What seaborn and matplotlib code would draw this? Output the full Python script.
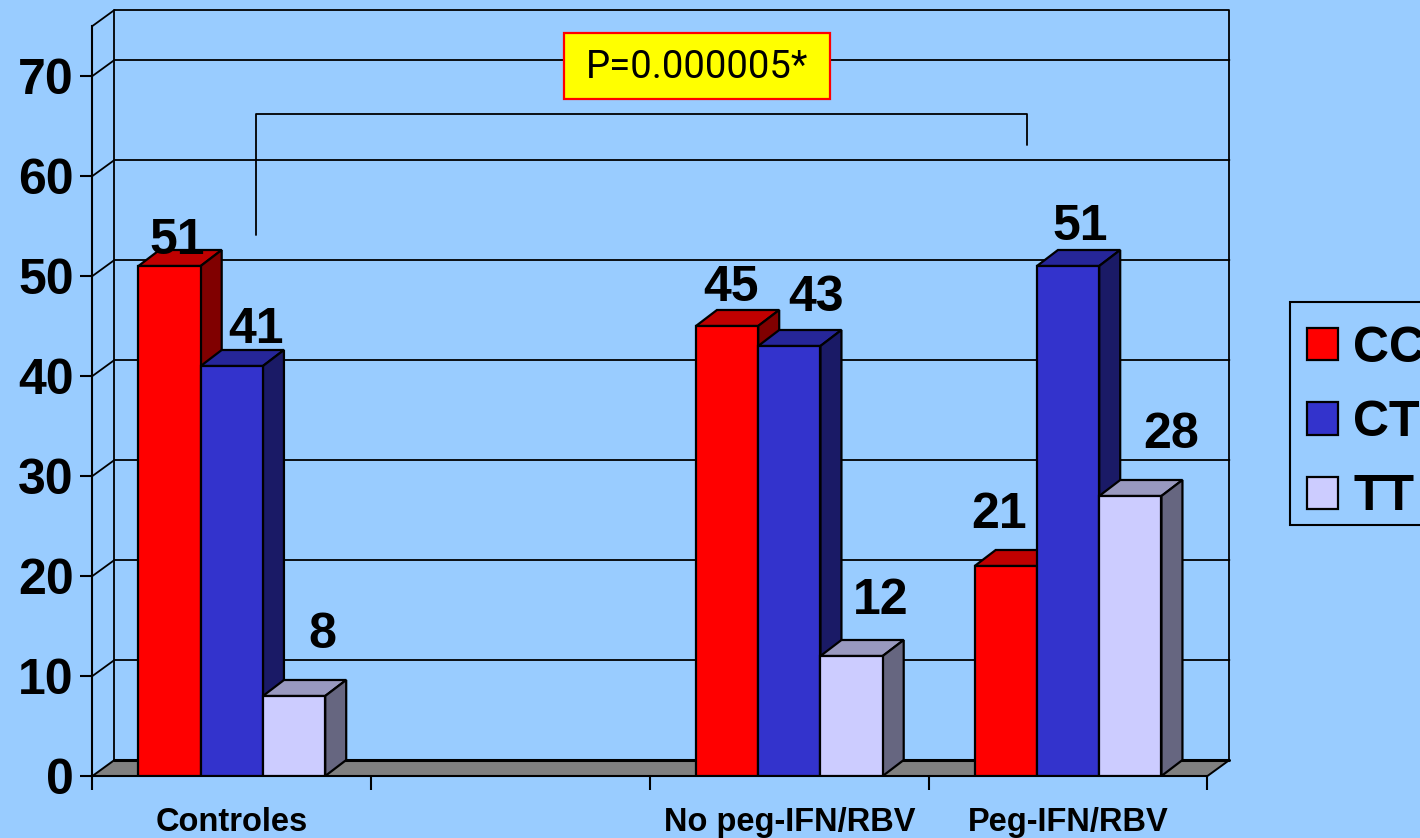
import numpy as np
import pandas as pd
import seaborn as sns
import matplotlib.pyplot as plt
from matplotlib.patches import Polygon, Rectangle

# Values
categories = ["Controles", " ", "No peg-IFN/RBV", "Peg-IFN/RBV"]
genotypes = ["CC", "CT", "TT"]
cc_values = [51, np.nan, 45, 21]
ct_values = [41, np.nan, 43, 51]
tt_values = [8, np.nan, 12, 28]
y_ticks = [0, 10, 20, 30, 40, 50, 60, 70]
p_label = "P=0.000005*"

df = pd.DataFrame({
    "group": categories * 3,
    "genotype": np.repeat(genotypes, len(categories)),
    "percent": cc_values + ct_values + tt_values,
})

BG = "#99CCFF"
front_colors = ["#FF0000", "#3333CC", "#CCCCFF"]
top_colors = ["#C00000", "#262699", "#9999BF"]
side_colors = ["#800000", "#1A1A66", "#666680"]

sns.set_theme(style="white")
plt.rcParams["font.family"] = ["Liberation Sans", "DejaVu Sans"]

W, H = 1420, 838
AX_LEFT = 92.45
fig = plt.figure(figsize=(W / 100, H / 100), dpi=100, facecolor=BG)
ax = fig.add_axes([AX_LEFT / W, 1 - 776 / H, 1115 / W, 750 / H])
ax.set_facecolor("none")

sns.barplot(
    data=df, x="group", y="percent", hue="genotype",
    order=categories, hue_order=genotypes, palette=front_colors, saturation=1,
    width=0.67, gap=0, errorbar=None, edgecolor="black", linewidth=1.6, ax=ax,
)
ax.set_xlim(-0.5, 3.5)
ax.set_ylim(0, 75)
ax.set_xlabel("")
ax.set_ylabel("")

# depth of the fake 3D box, in data units (22 px right, 16 px up)
dx = 22 / (1115 / 4)
dy = 16 / 10
x0, x1 = -0.5, 3.5
ytop = 75

# floor
ax.add_patch(Polygon([(x0, 0), (x0 + dx, dy), (x1 + dx, dy), (x1, 0)], closed=True,
                     facecolor="#808080", edgecolor="black", linewidth=1.4,
                     clip_on=False, zorder=1))
# back wall and grid
line_kw = dict(color="black", linewidth=1.3, clip_on=False, zorder=1.5)
ax.plot([x0 + dx, x0 + dx, x1 + dx, x1 + dx], [dy, ytop + dy, ytop + dy, dy], **line_kw)
for v in y_ticks[1:]:
    ax.plot([x0, x0 + dx, x1 + dx], [v, v + dy, v + dy], **line_kw)
ax.plot([x0, x0 + dx], [ytop, ytop + dy], **line_kw)
ax.plot([x0 + dx, x1 + dx], [dy, dy], color="black", linewidth=2.2, clip_on=False, zorder=1.6)

# 3D sides, painted left to right so the next bar hides them
z = 2
d_bar = 21 / (1115 / 4)
for g, container in enumerate(ax.containers):
    for bar in container:
        h = bar.get_height()
        if np.isnan(h) or h == 0:
            continue
        bar._genotype = g
bars = [b for b in ax.patches if hasattr(b, "_genotype")]
bars.sort(key=lambda b: b.get_x())
for bar in bars:
    g = bar._genotype
    left, w, h = bar.get_x(), bar.get_width(), bar.get_height()
    right = left + w
    ax.add_patch(Polygon([(left, h), (left + d_bar, h + dy), (right + d_bar, h + dy), (right, h)],
                         closed=True, facecolor=top_colors[g], edgecolor="black",
                         linewidth=1.6, clip_on=False, zorder=z))
    ax.add_patch(Polygon([(right, 0), (right + d_bar, dy), (right + d_bar, h + dy), (right, h)],
                         closed=True, facecolor=side_colors[g], edgecolor="black",
                         linewidth=1.6, clip_on=False, zorder=z))
    bar.set_zorder(z + 0.5)
    z += 1

# value labels sit loosely above the bars, offsets in pixels
label_dx = {(0, 0): 8, (0, 1): 24, (0, 2): 28, (2, 0): 4, (2, 1): 27, (2, 2): 29,
            (3, 0): -7, (3, 1): 12, (3, 2): 41}
label_dy = {(0, 0): 30, (0, 1): 41, (0, 2): 66, (2, 0): 43, (2, 1): 53, (2, 2): 60,
            (3, 0): 56, (3, 1): 44, (3, 2): 66}
for bar in bars:
    g = bar._genotype
    cat = int(round(bar.get_x() + bar.get_width() / 2 - (g - 1) * bar.get_width()))
    ax.annotate(f"{bar.get_height():.0f}", (bar.get_x() + bar.get_width() / 2, bar.get_height()),
                xytext=(label_dx[(cat, g)], label_dy[(cat, g)]), textcoords="offset pixels",
                ha="center", va="center_baseline", fontsize=36, fontweight="bold",
                color="black", zorder=50, annotation_clip=False)

# significance bracket
px_x = lambda p: (p - AX_LEFT) / (1115 / 4) - 0.5
px_y = lambda p: (776 - p) / 10
ax.plot([px_x(256), px_x(256), px_x(1027), px_x(1027)],
        [px_y(235), px_y(114), px_y(114), px_y(145)],
        color="black", linewidth=1.3, clip_on=False, zorder=40)
ax.add_patch(Rectangle((px_x(564), px_y(99)), px_x(830) - px_x(564), px_y(33) - px_y(99),
                       facecolor="#FFFF00", edgecolor="#FF0000", linewidth=1.6,
                       clip_on=False, zorder=41))
ax.text(px_x(697), px_y(63.5), p_label, ha="center", va="center_baseline", fontsize=27.5,
        family="Roboto", color="black", zorder=42)

# axes
sns.despine(ax=ax, top=True, right=True)
for s in ("left", "bottom"):
    ax.spines[s].set_linewidth(1.5)
    ax.spines[s].set_color("black")
    ax.spines[s].set_zorder(1.8)
ax.set_yticks(y_ticks)
ax.set_yticklabels([str(v) for v in y_ticks], fontsize=36, fontweight="bold")
ax.tick_params(axis="y", length=8.5, width=1.5, pad=5, color="black", left=True, labelcolor="black")
ax.set_xticks(range(len(categories)))
ax.set_xticklabels(categories, fontsize=23.5, fontweight="bold", color="black")
ax.set_xticks([-0.5, 0.5, 1.5, 2.5, 3.5], minor=True)
ax.tick_params(axis="x", which="major", length=0, pad=22.5)
ax.tick_params(axis="x", which="minor", length=10, width=1.5, color="black", bottom=True)

# legend box runs past the right edge of the picture, as in the original
ax.add_patch(Rectangle((1290 / W, 1 - 525 / H), 200 / W, 223 / H, transform=fig.transFigure,
                       facecolor=BG, edgecolor="black", linewidth=1.5, clip_on=False, zorder=59))
sns.move_legend(
    ax, "upper left", bbox_to_anchor=(1307 / W, 1 - 325.5 / H), bbox_transform=fig.transFigure,
    title=None, frameon=False, borderaxespad=0, borderpad=0,
    handlelength=0.62, handleheight=0.62, handletextpad=0.3, labelspacing=0.57,
    prop={"weight": "bold", "size": 36}, labelcolor="black",
)
leg = ax.get_legend()
leg.set_zorder(60)
for handle in leg.get_patches():
    handle.set_linewidth(1.6)

plt.savefig("out.png", dpi=100, facecolor=BG)
